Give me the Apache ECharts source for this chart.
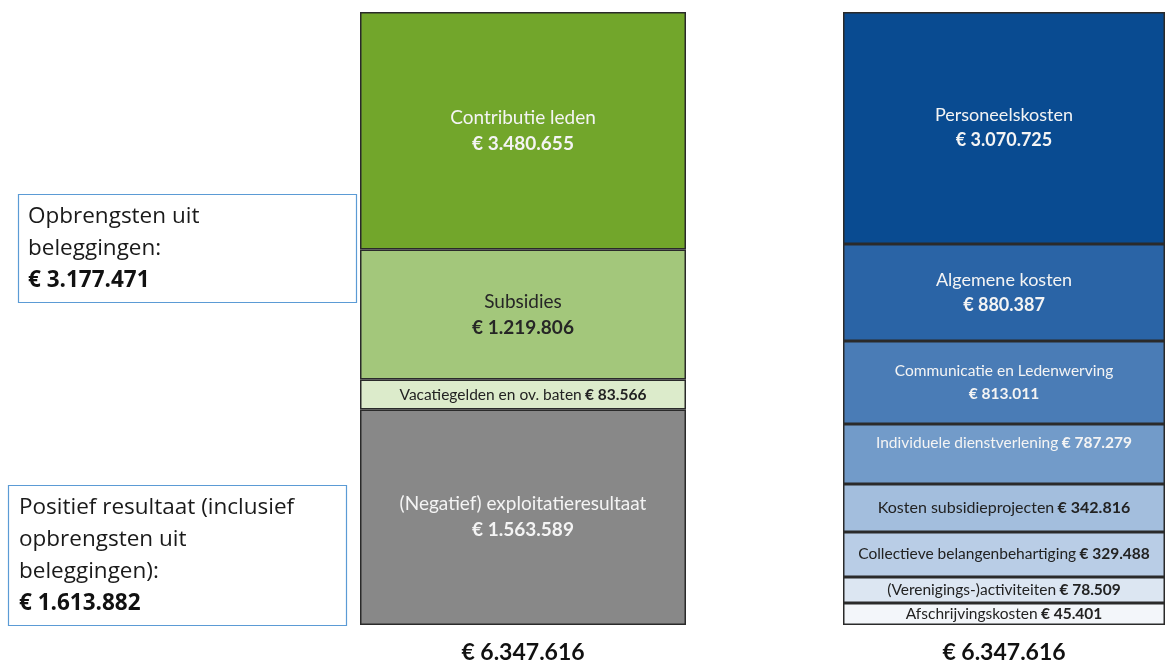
<!DOCTYPE html>
<html>
<head>
<meta charset="utf-8">
<script src="https://cdn.jsdelivr.net/npm/echarts@6/dist/echarts.min.js"></script>
<style>
  html, body { margin: 0; background: #fff; }
  #chart { width: 1165px; height: 664px; }
</style>
</head>
<body>
<div id="chart"></div>
<script>
// baten (linker kolom), van onder naar boven
const batenNames = ['(Negatief) exploitatieresultaat', 'Vacatiegelden en ov. baten', 'Subsidies', 'Contributie leden']
const batenAmounts = [1563589, 83566, 1219806, 3480655]
// blokhoogtes zoals getekend (k€-schaal, de blokken zijn niet op schaal)
const batenBlocks = [2230, 311, 1348, 2458]

// lasten (rechter kolom), van onder naar boven
const lastenNames = ['Afschrijvingskosten', '(Verenigings-)activiteiten', 'Collectieve belangenbehartiging',
    'Kosten subsidieprojecten', 'Individuele dienstverlening', 'Communicatie en Ledenwerving',
    'Algemene kosten', 'Personeelskosten']
const lastenAmounts = [45401, 78509, 329488, 342816, 787279, 813011, 880387, 3070725]
const lastenBlocks = [228, 269, 466, 497, 621, 860, 1004, 2402]

// kaders links
const noteTopLines = ['Opbrengsten uit', 'beleggingen:']
const noteTopAmount = 3177471
const noteBottomLines = ['Positief resultaat (inclusief', 'opbrengsten uit', 'beleggingen):']
const noteBottomAmount = 1613882

// opmaak per blok: kleur, tekstkleur, regels, lettergrootte, plek
const batenStyle = [
    { fill: '#888888', text: '#f4f4f4', lines: 2, size: 19 },
    { fill: '#dcebcb', text: '#222', lines: 1, size: 15.5 },
    { fill: '#a3c77b', text: '#262626', lines: 2, size: 19 },
    { fill: '#72a62b', text: '#f4f4f4', lines: 2, size: 19 }
]
const lastenStyle = [
    { fill: '#f3f6fa', text: '#222', lines: 1, size: 15.5 },
    { fill: '#dce6f2', text: '#222', lines: 1, size: 15.5 },
    { fill: '#b9cde6', text: '#222', lines: 1, size: 15.5 },
    { fill: '#a3bedd', text: '#222', lines: 1, size: 16 },
    { fill: '#729bc9', text: '#f4f4f4', lines: 1, size: 15.5, top: true },
    { fill: '#4a7cb6', text: '#f4f4f4', lines: 2, size: 15.5 },
    { fill: '#2a64a6', text: '#f4f4f4', lines: 2, size: 18 },
    { fill: '#094b91', text: '#f4f4f4', lines: 2, size: 18 }
]

const font = 'Lato'

// 1234567 -> 1.234.567
function euro(n) {
    return '€ ' + String(n).replace(/\B(?=(\d{3})+(?!\d))/g, '.')
}
const sum = arr => arr.reduce((a, b) => a + b, 0)

function makeSeries(names, amounts, blocks, styles, axis, stack) {
    return names.map((name, i) => {
        const st = styles[i]
        const sep = st.lines === 2 ? '\n' : ' '
        return {
            name: name,
            type: 'bar',
            stack: stack,
            xAxisIndex: axis,
            yAxisIndex: axis,
            barWidth: '100%',
            data: [blocks[i]],
            itemStyle: {
                color: st.fill,
                borderColor: '#2a2a2a',
                borderWidth: 1.5
            },
            label: {
                show: true,
                position: st.top ? 'insideTop' : 'inside',
                distance: 8,
                formatter: () => '{n|' + name + '}' + sep + '{b|' + euro(amounts[i]) + '}',
                rich: {
                    n: { fontFamily: font, fontSize: st.size, color: st.text, lineHeight: st.size + 7 },
                    b: { fontFamily: font, fontSize: st.size, fontWeight: 'bold', color: st.text, lineHeight: st.size + 7 }
                }
            }
        }
    })
}

function noteText(lines, amount) {
    return lines.map(l => '{r|' + l + '}').join('\n') + '\n{b|' + euro(amount) + '}'
}

const myChart = echarts.init(document.getElementById('chart'))

const axisCommon = {
    type: 'category',
    axisLine: { show: false },
    axisTick: { show: false },
    axisLabel: {
        margin: 16,
        fontFamily: font,
        fontSize: 23,
        fontWeight: 'bold',
        color: '#111'
    }
}

const noteRich = {
    r: { fontFamily: 'Open Sans', fontSize: 22.5, lineHeight: 32, fill: '#1a1a1a' },
    b: { fontFamily: 'Open Sans', fontSize: 22.5, lineHeight: 32, fontWeight: 'bold', fill: '#111' }
}

const options = {
    animation: false,
    grid: [
        { left: 360, width: 326, top: 12, bottom: 39 },
        { left: 843, width: 322, top: 12, bottom: 39 }
    ],
    xAxis: [
        Object.assign({}, axisCommon, { gridIndex: 0, data: [euro(sum(batenAmounts))] }),
        Object.assign({}, axisCommon, { gridIndex: 1, data: [euro(sum(lastenAmounts))] })
    ],
    yAxis: [
        { type: 'value', gridIndex: 0, min: 0, max: sum(batenBlocks), show: false },
        { type: 'value', gridIndex: 1, min: 0, max: sum(lastenBlocks), show: false }
    ],
    graphic: [
        {
            type: 'rect',
            shape: { x: 18.5, y: 194.5, width: 338, height: 108 },
            style: { fill: '#fff', stroke: '#5b9bd5', lineWidth: 1.2 }
        },
        {
            type: 'text',
            left: 28, top: 205,
            style: { text: noteText(noteTopLines, noteTopAmount), rich: noteRich }
        },
        {
            type: 'rect',
            shape: { x: 8.5, y: 485.5, width: 338, height: 140 },
            style: { fill: '#fff', stroke: '#5b9bd5', lineWidth: 1.2 }
        },
        {
            type: 'text',
            left: 19, top: 496,
            style: { text: noteText(noteBottomLines, noteBottomAmount), rich: noteRich }
        }
    ],
    series: makeSeries(batenNames, batenAmounts, batenBlocks, batenStyle, 0, 'baten')
        .concat(makeSeries(lastenNames, lastenAmounts, lastenBlocks, lastenStyle, 1, 'lasten'))
}
myChart.setOption(options)
</script>
</body>
</html>
